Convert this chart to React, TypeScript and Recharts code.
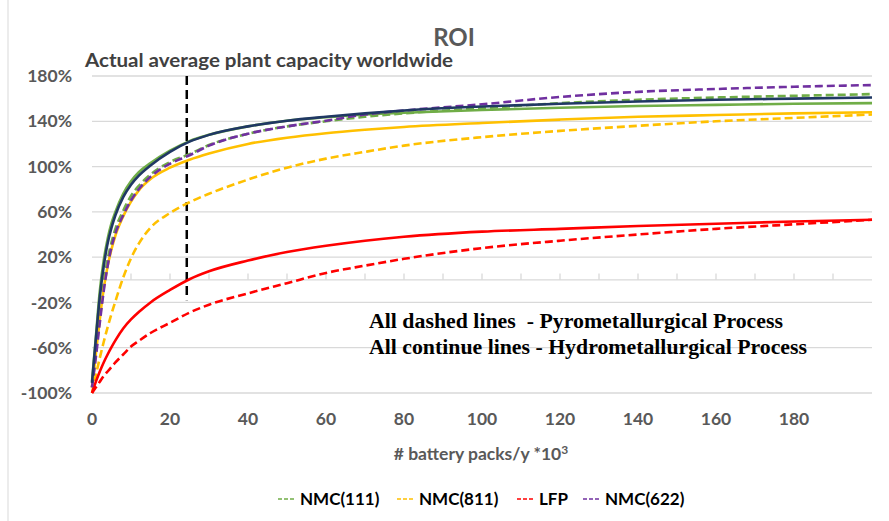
import { LineChart, Line, XAxis, YAxis, CartesianGrid, ReferenceLine } from "recharts"

// battery packs per year (*10^3)
const PACKS = [0, 1, 2, 3, 4, 5, 6, 8, 10, 12, 15, 20, 25, 30, 40, 50, 60, 70, 80, 100, 120, 140, 160, 180, 200]

// ROI in %, dashed = pyrometallurgical, solid = hydrometallurgical
const NMC111_PYRO = [-95, -62, -30, -3, 18, 33, 45, 61, 74, 83, 93, 104, 111, 119, 129, 135.5, 140, 144, 147, 151.5, 156, 159, 161, 162.5, 164]
const NMC111_HYDRO = [-90, -50, -10, 17, 36, 50, 60, 76, 87, 95, 103, 114, 122.5, 128, 135.5, 140.5, 143.5, 146, 147.5, 150, 152, 153.5, 154.5, 155.5, 156]
const NMC811_PYRO = [-100, -84, -69, -55, -42, -30, -19, 2, 19, 32, 46, 59, 68.5, 76, 88.5, 99, 107, 113, 118.5, 126, 131.5, 136, 140, 143, 146]
const NMC811_HYDRO = [-95, -65, -35, -8, 12, 27, 39, 56, 69, 79, 89, 99, 106, 111.5, 120, 125.5, 129.5, 132.5, 135, 138.5, 141.5, 144, 145.5, 147, 148]
const LFP_PYRO = [-100, -95, -90, -85, -81, -77, -73, -66, -59, -54, -47, -38, -29, -22, -12, -3, 6, 12.5, 18.5, 28, 34.5, 40, 45, 49, 53]
const LFP_HYDRO = [-100, -90, -81, -73, -66, -59.5, -53.5, -43, -35, -28.5, -20, -9, 0.5, 7.5, 17, 24.5, 30, 34.5, 38, 42.5, 45, 47.5, 49.5, 51.5, 53]
const NMC622_PYRO = [-95, -68, -38, -10, 12, 29, 41, 57, 70, 80, 91, 102.5, 110, 118.5, 129, 135.5, 140.5, 146, 149.5, 155, 161.5, 166, 168.5, 170.5, 172]
const NMC622_HYDRO = [-91, -52, -15, 12, 32, 46, 57, 73, 84, 92, 101, 113, 122, 128, 135.5, 140.5, 144, 147, 149.5, 153, 155.5, 157.5, 159, 160, 161]

const X_TICKS = [0, 20, 40, 60, 80, 100, 120, 140, 160, 180]
const X_MINOR = [10, 20, 30, 40, 50, 60, 70, 80, 90, 100, 110, 120, 130, 140, 150, 160, 170, 180, 190]
const Y_TICKS = [-100, -60, -20, 20, 60, 100, 140, 180]

const CAPACITY_NOW = 24.3

const LEGEND = [
  { name: "NMC(111)", color: "#70AD47" },
  { name: "NMC(811)", color: "#FFC000" },
  { name: "LFP", color: "#FF0000" },
  { name: "NMC(622)", color: "#7030A0" },
]

const GREEN = "#70AD47"
const YELLOW = "#FFC000"
const RED = "#FF0000"
const PURPLE = "#7030A0"
const NAVY = "#203864"
const GRID = "#d9d9d9"
const LABEL = "#595959"
const FONT = "Lato, 'Open Sans', sans-serif"

const data = PACKS.map((x, i) => ({
  x,
  nmc111Pyro: NMC111_PYRO[i],
  nmc111Hydro: NMC111_HYDRO[i],
  nmc811Pyro: NMC811_PYRO[i],
  nmc811Hydro: NMC811_HYDRO[i],
  lfpPyro: LFP_PYRO[i],
  lfpHydro: LFP_HYDRO[i],
  nmc622Pyro: NMC622_PYRO[i],
  nmc622Hydro: NMC622_HYDRO[i],
}))

const series = [
  { key: "nmc111Pyro", color: GREEN, dashed: true },
  { key: "nmc111Hydro", color: GREEN, dashed: false },
  { key: "nmc811Pyro", color: YELLOW, dashed: true },
  { key: "nmc811Hydro", color: YELLOW, dashed: false },
  { key: "lfpPyro", color: RED, dashed: true },
  { key: "lfpHydro", color: RED, dashed: false },
  { key: "nmc622Pyro", color: PURPLE, dashed: true },
  { key: "nmc622Hydro", color: NAVY, dashed: false },
]

const legendPos = [278, 397, 517, 583]

export default function App() {
  return (
    <div style={{ position: "absolute", left: 0, top: 0, width: 889, height: 521, background: "#fff" }}>
      <LineChart
        width={889}
        height={521}
        data={data}
        margin={{ top: 76, right: 17, bottom: 88, left: 0 }}
      >
        <CartesianGrid vertical={false} stroke={GRID} strokeWidth={1.3} />
        <XAxis
          dataKey="x"
          type="number"
          domain={[0, 200]}
          ticks={X_TICKS}
          axisLine={false}
          tickLine={false}
          tickSize={0}
          tickMargin={20}
          height={40}
          tick={{ fill: LABEL, fontSize: 17.5, fontWeight: 700, fontFamily: FONT }}
        />
        <YAxis
          type="number"
          domain={[-100, 180]}
          ticks={Y_TICKS}
          axisLine={false}
          tickLine={false}
          tickSize={0}
          tickMargin={20}
          width={92}
          tickFormatter={(v) => `${v}%`}
          tick={{ fill: LABEL, fontSize: 17.5, fontWeight: 700, fontFamily: FONT }}
        />
        <ReferenceLine y={0} stroke={GRID} strokeWidth={1.3} />
        {X_MINOR.map((t) => (
          <ReferenceLine
            key={t}
            segment={[
              { x: t, y: 0 },
              { x: t, y: 5.5 },
            ]}
            stroke={GRID}
            strokeWidth={1.3}
          />
        ))}
        <ReferenceLine
          segment={[
            { x: CAPACITY_NOW, y: 180 },
            { x: CAPACITY_NOW, y: -18 },
          ]}
          stroke="#000"
          strokeWidth={2.5}
          strokeDasharray="9 5"
        />
        {series.map((s) => (
          <Line
            key={s.key}
            dataKey={s.key}
            type="monotone"
            stroke={s.color}
            strokeWidth={2.6}
            strokeDasharray={s.dashed ? "8 4" : undefined}
            dot={false}
            activeDot={false}
            isAnimationActive={false}
          />
        ))}
      </LineChart>
      <svg
        width={889}
        height={521}
        style={{ position: "absolute", left: 0, top: 0, pointerEvents: "none" }}
      >
        <line x1={8} y1={0} x2={8} y2={521} stroke={GRID} strokeWidth={1} />
        <text x={454} y={46} textAnchor="middle" fontFamily={FONT} fontWeight={700} fontSize={24} fill={LABEL}>
          ROI
        </text>
        <text
          x={85}
          y={66.5}
          fontFamily={FONT}
          fontWeight={700}
          fontSize={18.5}
          fill="#404040"
          textLength={368}
          lengthAdjust="spacingAndGlyphs"
        >
          Actual average plant capacity worldwide
        </text>
        <text
          x={369}
          y={328}
          fontFamily="'Liberation Serif', 'Times New Roman', serif"
          fontWeight={700}
          fontSize={20}
          fill="#000"
          textLength={414}
          lengthAdjust="spacingAndGlyphs"
          style={{ whiteSpace: "pre" }}
        >
          All dashed lines  - Pyrometallurgical Process
        </text>
        <text
          x={369}
          y={353.5}
          fontFamily="'Liberation Serif', 'Times New Roman', serif"
          fontWeight={700}
          fontSize={20}
          fill="#000"
          textLength={438}
          lengthAdjust="spacingAndGlyphs"
        >
          All continue lines - Hydrometallurgical Process
        </text>
        <text x={481} y={460} textAnchor="middle" fontFamily={FONT} fontWeight={700} fontSize={17.5} fill={LABEL}>
          # battery packs/y *10<tspan dy={-6} fontSize={12}>3</tspan>
        </text>
        {LEGEND.map((l, i) => (
          <g key={l.name}>
            <line
              x1={legendPos[i]}
              y1={499}
              x2={legendPos[i] + 17}
              y2={499}
              stroke={l.color}
              strokeWidth={1.6}
              strokeDasharray="4 2"
            />
            <text x={legendPos[i] + 22} y={505} fontFamily={FONT} fontWeight={700} fontSize={17} fill="#000">
              {l.name}
            </text>
          </g>
        ))}
      </svg>
    </div>
  )
}
